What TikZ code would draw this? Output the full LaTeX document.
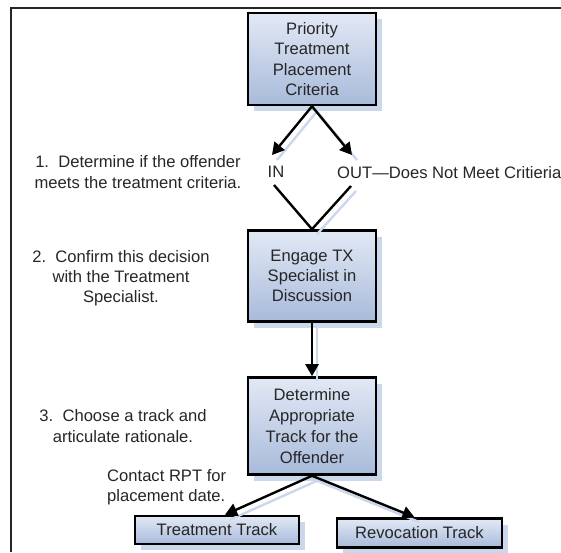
\documentclass[tikz,border=0pt]{standalone}
\usepackage{fontspec}
\setmainfont{Liberation Sans}
\usetikzlibrary{arrows.meta,shadows}
\definecolor{boxtop}{HTML}{E2E9F5}
\definecolor{boxbot}{HTML}{A8BADA}
\definecolor{shadowc}{HTML}{CBD7EA}
\definecolor{txt}{HTML}{262626}
\newcommand\bodyfont{\fontsize{16.6}{20.2}\selectfont}
\newcommand\widefont{\fontsize{16.6}{21.2}\selectfont}
\tikzset{
  flowbox/.style={draw=black, line width=2.6pt, top color=boxtop, bottom color=boxbot,
    align=center, inner sep=0pt, font=\bodyfont, text=txt,
    drop shadow={shadow xshift=6pt, shadow yshift=-6pt, fill=shadowc, opacity=1}},
  note/.style={font=\bodyfont, text=txt, inner sep=0pt},
  conn/.style={draw=black, line width=2.4pt},
  arr/.style={conn, -{Triangle[length=12pt,width=13pt]}},
  connshadow/.style={draw=shadowc, line width=2.4pt, transform canvas={xshift=5pt,yshift=-5pt}},
  frameline/.style={draw=black!85, line width=1.6pt}
}
\begin{document}
\begin{tikzpicture}[x=1pt,y=-1pt]
\useasboundingbox (0,0) rectangle (561,552);
% frame
\coordinate (ftr) at (561,8);
\coordinate (ftl) at (11,8);
\coordinate (fbl) at (11,552);
\draw[frameline] (ftr) -- (ftl) -- (fbl);

% boxes
\node[flowbox, minimum width=128pt, minimum height=92pt] (b1) at (312,59)
  {Priority\\Treatment\\Placement\\Criteria};
\node[flowbox, minimum width=128pt, minimum height=91pt] (b2) at (312,276)
  {Engage TX\\Specialist in\\Discussion};
\node[flowbox, font=\widefont, minimum width=128pt, minimum height=97pt] (b3) at (312,426)
  {Determine\\Appropriate\\Track for the\\Offender};
\node[flowbox, minimum width=164pt, minimum height=28pt] (tt) at (217,530)
  {Treatment Track};
\node[flowbox, minimum width=165pt, minimum height=29pt] (rt) at (419.5,533)
  {Revocation Track};

% decision labels
\node[note, anchor=base] (in) at (276,177) {IN};
\node[note, anchor=base west] (out) at (337,178) {OUT—Does Not Meet Critieria};
\coordinate (inTip) at (272,155);
\coordinate (outTip) at (352,155);
\coordinate (inBot) at (274,185);
\coordinate (outBot) at (351,186);

% side notes
\node[note, align=center] (n1) at (138,172) {1.\ \ Determine if the offender\\meets the treatment criteria.};
\node[note, align=center] (n2) at (121,278) {2.\ \ Confirm this decision\\with the Treatment\\Specialist.};
\node[note, align=center, font=\widefont] (n3) at (123,426) {3.\ \ Choose a track and\\articulate rationale.};
\node[note, align=left, anchor=west] (n4) at (107,487) {Contact RPT for\\placement date.};

\coordinate (ttTip) at ([xshift=8pt]tt.north);
\coordinate (rtTip) at ([xshift=-5pt]rt.north);

% connector shadows
\draw[connshadow] (b1.south) -- (inTip);
\draw[connshadow] (b1.south) -- (outTip);
\draw[connshadow] (outBot) -- (b2.north);
\draw[connshadow] (b2.south) -- (b3.north);
\draw[connshadow] (b3.south) -- (ttTip);
\draw[connshadow] (b3.south) -- (rtTip);

% connectors
\draw[arr] (b1.south) -- (inTip);
\draw[arr] (b1.south) -- (outTip);
\draw[conn] (inBot) -- (b2.north) -- (outBot);
\draw[arr] (b2.south) -- (b3.north);
\draw[arr] (b3.south) -- (ttTip);
\draw[arr] (b3.south) -- (rtTip);
\end{tikzpicture}
\end{document}
